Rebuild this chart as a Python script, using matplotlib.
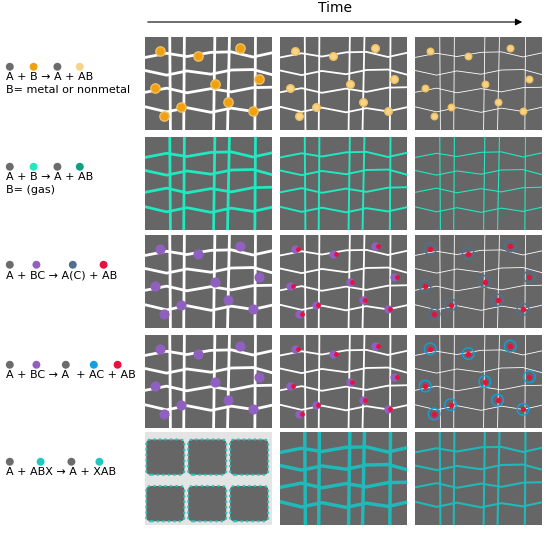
import matplotlib.pyplot as plt
from matplotlib.patches import FancyBboxPatch

# grain-boundary grid (axes fraction) and particle sites
grid_x = [0.0, 0.17, 0.33, 0.52, 0.68, 0.85, 1.0]
grid_y = [0.0, 0.22, 0.43, 0.62, 0.81, 1.0]
jitter = [0.03, -0.025, 0.02, -0.03, 0.015, -0.02, 0.025]
sites_x = [0.12, 0.42, 0.75, 0.08, 0.55, 0.9, 0.28, 0.65, 0.15, 0.85]
sites_y = [0.85, 0.8, 0.88, 0.45, 0.5, 0.55, 0.25, 0.3, 0.15, 0.2]

labels = [
    ("A + B \u2192 A + AB\nB= metal or nonmetal", ["#6b6b6b", "#f0a010", "#6b6b6b", "#f7d48a"], [0.07, 0.24, 0.41, 0.57]),
    ("A + B \u2192 A + AB\nB= (gas)", ["#6b6b6b", "#20e8c0", "#6b6b6b", "#10a080"], [0.07, 0.24, 0.41, 0.57]),
    ("A + BC \u2192 A(C) + AB", ["#6b6b6b", "#9060c0", "#507090", "#e81040"], [0.07, 0.26, 0.52, 0.74]),
    ("A + BC \u2192 A  + AC + AB", ["#6b6b6b", "#9060c0", "#6b6b6b", "#10a0e0", "#e81040"], [0.07, 0.26, 0.47, 0.67, 0.84]),
    ("A + ABX \u2192 A + XAB", ["#6b6b6b", "#20c8c0", "#6b6b6b", "#20c8c0"], [0.07, 0.29, 0.51, 0.71]),
]

W, H = 550, 547
fig = plt.figure(figsize=(5.5, 5.47), dpi=100)
col_x = [145, 280, 415]
row_y = [37, 137, 235, 335, 432]
pw, ph = 127, 93
gray = "#666666"


def boundaries(ax, color, lw):
    for i, x in enumerate(grid_x[1:-1]):
        ax.plot([x + jitter[i], x - jitter[i + 1]], [0, 1], color=color, lw=lw)
    for j, y in enumerate(grid_y[1:-1]):
        xs = grid_x
        ys = [y + jitter[(k + j) % len(jitter)] for k in range(len(xs))]
        ax.plot(xs, ys, color=color, lw=lw)


for r in range(5):
    # left label
    la = fig.add_axes([0, 1 - (row_y[r] + ph) / H, 140 / W, ph / H])
    la.axis("off")
    la.set_xlim(0, 1); la.set_ylim(0, 1)
    text, cols, xs = labels[r]
    la.text(0.04, 0.62, text, va="top", ha="left", fontsize=8, linespacing=1.3)
    la.scatter(xs, [0.68] * len(xs), s=22, c=cols)

    for c in range(3):
        ax = fig.add_axes([col_x[c] / W, 1 - (row_y[r] + ph) / H, pw / W, ph / H])
        ax.set_xlim(0, 1); ax.set_ylim(0, 1)
        ax.set_xticks([]); ax.set_yticks([])
        for s in ax.spines.values():
            s.set_visible(False)
        if r == 4 and c == 0:
            ax.set_facecolor("#e4e4e4")
            for i in range(3):
                for j in range(2):
                    ax.add_patch(FancyBboxPatch((0.05 + i * 0.33, 0.08 + j * 0.5), 0.22, 0.3,
                                                boxstyle="round,pad=0.04", fc=gray, ec="#20c8c0",
                                                lw=1.5, ls=":"))
            continue
        ax.set_facecolor(gray)
        if r == 1:
            boundaries(ax, "#20e8c0", 2.0 - 0.6 * c)
        elif r == 4:
            boundaries(ax, "#20b8b8", 3.5 - c)
        else:
            boundaries(ax, "white", 2.0 - 0.7 * c)
        if r == 0:
            fc = ["#f0a010", "#f7d48a", "#f7d48a"][c]
            sz = [45, 30, 22][c]
            ax.scatter(sites_x, sites_y, s=sz, c=fc, edgecolors="#f0c060", zorder=3)
        elif r in (2, 3):
            if c == 0:
                ax.scatter(sites_x, sites_y, s=40, c="#9060c0", zorder=3)
            elif c == 1:
                ax.scatter(sites_x, sites_y, s=25, c="#9060c0", zorder=3)
                ax.scatter([x + 0.02 for x in sites_x], sites_y, s=6, c="#e81040", zorder=4)
            else:
                ring = "#507090" if r == 2 else "#10a0e0"
                ax.scatter(sites_x, sites_y, s=70, facecolors="none", edgecolors=ring, lw=1, zorder=3)
                ax.scatter(sites_x, sites_y, s=8, c="#e81040", zorder=4)

# time arrow
ta = fig.add_axes([0, 0, 1, 1]); ta.axis("off")
ta.set_xlim(0, W); ta.set_ylim(H, 0)
ta.annotate("", xy=(525, 22), xytext=(145, 22),
            arrowprops=dict(arrowstyle="-|>", color="black", lw=0.8))
ta.text(335, 15, "Time", ha="center", va="bottom", fontsize=10)

fig.savefig("out.png")
